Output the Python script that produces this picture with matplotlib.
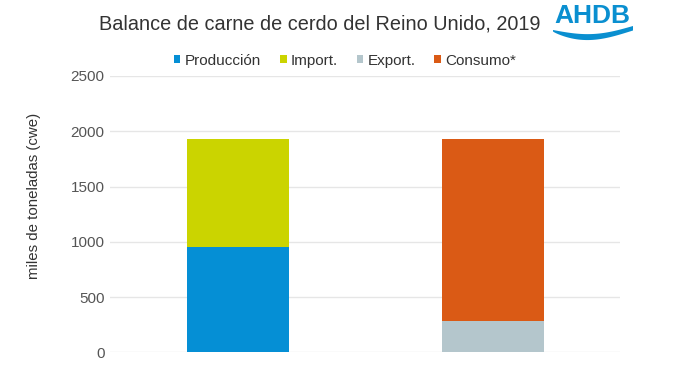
import matplotlib
matplotlib.use("Agg")
import matplotlib.pyplot as plt
import numpy as np
from matplotlib.patches import Polygon

plt.rcParams['font.family'] = ['Liberation Sans', 'DejaVu Sans']

categories = ["Oferta", "Uso"]
produccion = [955, 0]
importacion = [977, 0]
exportacion = [0, 282]
consumo = [0, 1650]

series_names = ["Producción", "Import.", "Export.", "Consumo*"]
colors = ["#058fd5", "#cbd400", "#b4c6cc", "#da5a15"]
yticks = [0, 500, 1000, 1500, 2000, 2500]

fig = plt.figure(figsize=(6.8, 3.83), dpi=100)
ax = fig.add_axes([0.1618, 0.080, 0.75, 0.7216])

x = np.arange(len(categories))
w = 0.4
b1 = ax.bar(x, produccion, w, color=colors[0], label=series_names[0])
b2 = ax.bar(x, importacion, w, bottom=produccion, color=colors[1], label=series_names[1])
b3 = ax.bar(x, exportacion, w, color=colors[2], label=series_names[2])
b4 = ax.bar(x, consumo, w, bottom=exportacion, color=colors[3], label=series_names[3])

ax.set_xlim(-0.5, 1.5)
ax.set_ylim(0, 2500)
ax.set_yticks(yticks)
ax.set_yticklabels([str(t) for t in yticks])
ax.set_xticks([])
ax.grid(axis='y', color='#e6e6e6', linewidth=1)
ax.set_axisbelow(True)
for s in ax.spines.values():
    s.set_visible(False)
ax.tick_params(axis='y', length=0, pad=4, labelsize=11, labelcolor='#555555')
ax.set_ylabel("miles de toneladas (cwe)", fontsize=10.8, color='#333333')
ax.yaxis.set_label_coords(-0.149, 0.566)
ax.yaxis.label.set_va('center')

fig.text(0.47, 0.937, "Balance de carne de cerdo del Reino Unido, 2019",
         ha='center', va='center', fontsize=14.3, color='#333333')

leg = fig.legend(handles=[b1, b2, b3, b4], labels=series_names, loc='center',
                 bbox_to_anchor=(0.507, 0.842), ncol=4, frameon=False,
                 fontsize=11, handlelength=0.45, handleheight=0.45,
                 handletextpad=0.25, columnspacing=1.25, labelcolor='#333333')

# AHDB logo
fig.text(0.871, 0.958, "AHDB", ha='center', va='center', fontsize=19,
         fontweight='bold', color='#0a8fd0')
t = np.linspace(0, 1, 60)
px = 553 + 80 * t
top_y = 30 + 6 * np.sin(np.pi * t) - 4 * t
bot_y = 31.5 + 9 * np.sin(np.pi * t ** 0.85) - 1 * t
fx = px / 680
ft = 1 - top_y / 383
fb = 1 - bot_y / 383
poly = np.vstack([np.column_stack([fx, ft]), np.column_stack([fx[::-1], fb[::-1]])])
fig.patches.append(Polygon(poly, closed=True, transform=fig.transFigure,
                           facecolor='#0a8fd0', edgecolor='none'))

fig.savefig("out.png", dpi=100)
